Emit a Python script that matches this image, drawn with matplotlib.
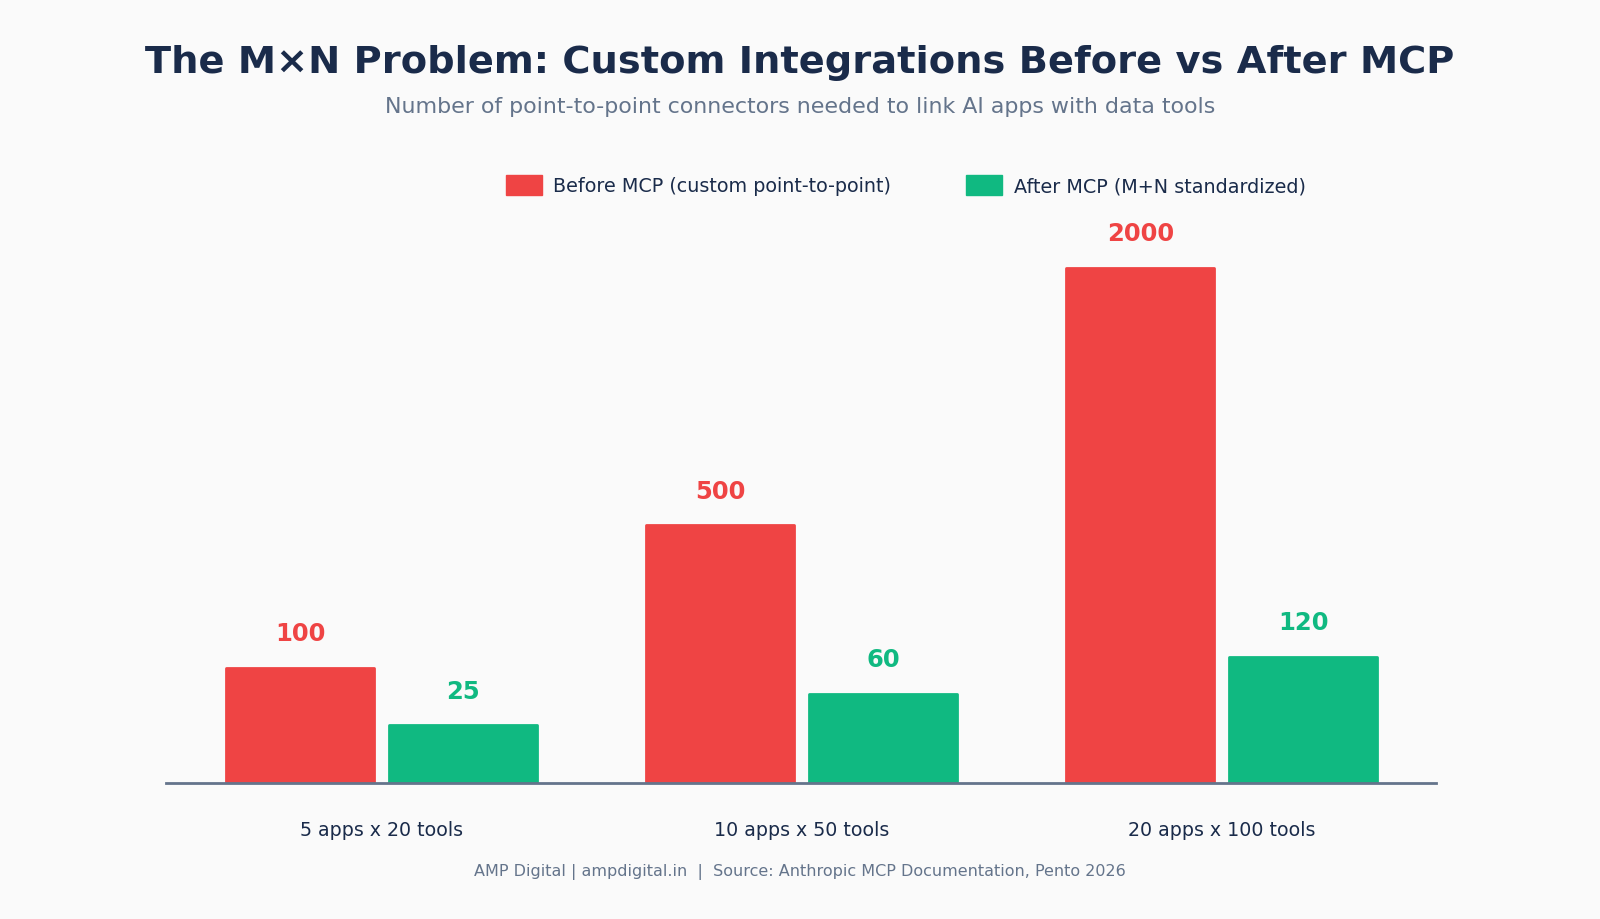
import matplotlib
matplotlib.use("Agg")
import matplotlib.pyplot as plt
from matplotlib.patches import Patch
import numpy as np

# --- Data ---
categories = ["5 apps x 20 tools", "10 apps x 50 tools", "20 apps x 100 tools"]
before_mcp = [100, 500, 2000]
after_mcp = [25, 60, 120]
series_labels = ["Before MCP (custom point-to-point)", "After MCP (M+N standardized)"]

RED = "#ef4444"
GREEN = "#10b981"
NAVY = "#1a2b4a"
GRAY = "#64748b"
BG = "#fafafa"

fig = plt.figure(figsize=(16, 9.2), dpi=100, facecolor=BG)
ax = fig.add_axes([0.1035, 0.148, 0.794, 0.626])
ax.set_facecolor(BG)

# bar heights follow a square-root scale
ax.set_yscale("function", functions=(lambda v: np.sqrt(np.clip(v, 0, None)),
                                     lambda v: np.square(v)))

x = np.arange(len(categories))
width = 0.352
offset = 0.194

bars_before = ax.bar(x - offset, before_mcp, width, color=RED, edgecolor=RED,
                     linewidth=2, joinstyle="round", zorder=2)
bars_after = ax.bar(x + offset, after_mcp, width, color=GREEN, edgecolor=GREEN,
                    linewidth=2, joinstyle="round", zorder=2)

for bars, vals, col in [(bars_before, before_mcp, RED), (bars_after, after_mcp, GREEN)]:
    for b, v in zip(bars, vals):
        ax.annotate(f"{v}", (b.get_x() + b.get_width() / 2, v),
                    xytext=(0, 25), textcoords="offset points",
                    ha="center", va="center", fontsize=17.5, fontweight="bold",
                    color=col)

ax.set_xlim(-0.515, 2.51)
ax.set_ylim(0, 2500)
ax.set_yticks([])
for s in ["top", "right", "left"]:
    ax.spines[s].set_visible(False)
ax.spines["bottom"].set_color(GRAY)
ax.spines["bottom"].set_linewidth(2)
ax.spines["bottom"].set_zorder(3)
ax.set_xticks(x)
ax.set_xticklabels(categories, fontsize=13.7, color=NAVY)
ax.tick_params(axis="x", length=0, pad=27)

fig.text(0.5, 0.931, "The M×N Problem: Custom Integrations Before vs After MCP",
         ha="center", va="center", fontsize=27.6, fontweight="bold", color=NAVY)
fig.text(0.5, 0.884, "Number of point-to-point connectors needed to link AI apps with data tools",
         ha="center", va="center", fontsize=15.9, color=GRAY)

handles = [Patch(facecolor=RED, edgecolor=RED), Patch(facecolor=GREEN, edgecolor=GREEN)]
fig.legend(handles, series_labels, loc="center", bbox_to_anchor=(0.566, 0.798),
           ncol=2, frameon=False, fontsize=13.75, handlelength=1.9, handleheight=1.25,
           handletextpad=0.6, columnspacing=3.9, labelcolor=NAVY)

fig.text(0.5, 0.052, "AMP Digital | ampdigital.in  |  Source: Anthropic MCP Documentation, Pento 2026",
         ha="center", va="center", fontsize=11.5, color=GRAY)

fig.savefig("out.png", dpi=100, facecolor=BG)
